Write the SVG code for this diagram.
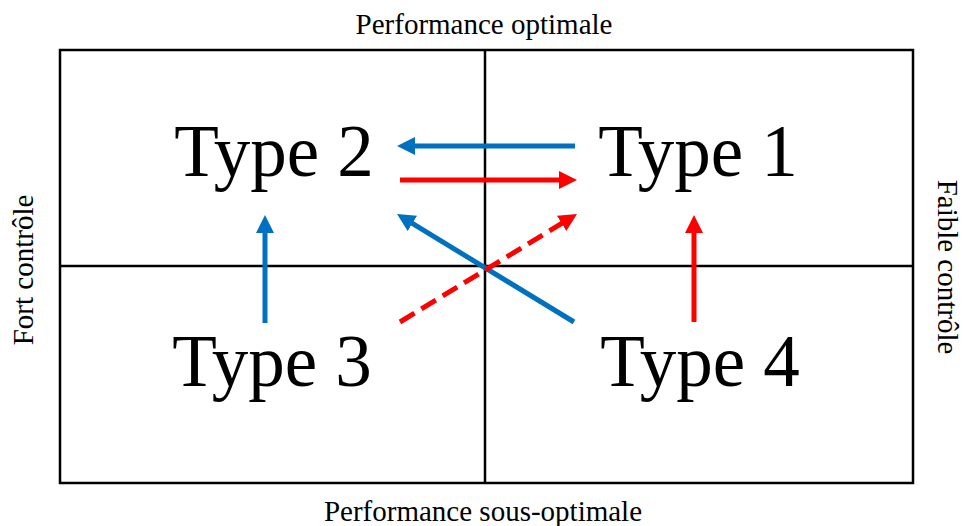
<svg xmlns="http://www.w3.org/2000/svg" width="963" height="526" viewBox="0 0 963 526">
<style>
.grid{fill:none;stroke:#000;stroke-width:2.5}
.lbl{font-family:"Liberation Serif","Times New Roman",serif;font-size:29px;fill:#000}
.type{font-family:"Liberation Serif","Times New Roman",serif;font-size:73px;fill:#000;text-anchor:middle}
.blue{stroke:#0070C0;stroke-width:5;fill:none}
.red{stroke:#FF0000;stroke-width:5;fill:none}
</style>
<defs>
<marker id="ab" markerUnits="userSpaceOnUse" markerWidth="20" markerHeight="20" viewBox="0 0 20 20" refX="1" refY="9" orient="auto"><path d="M0,0 L18,9 L0,18 z" fill="#0070C0"/></marker>
<marker id="ar" markerUnits="userSpaceOnUse" markerWidth="20" markerHeight="20" viewBox="0 0 20 20" refX="1" refY="9" orient="auto"><path d="M0,0 L18,9 L0,18 z" fill="#FF0000"/></marker>
</defs>
<rect width="963" height="526" fill="#fff"/>
<g id="grid">
<rect class="grid" x="60" y="50" width="853" height="433"/>
<line class="grid" x1="485" y1="50" x2="485" y2="483"/>
<line class="grid" x1="60" y1="266" x2="913" y2="266"/>
</g>
<g id="labels">
<text class="lbl" x="484" y="34" text-anchor="middle">Performance optimale</text>
<text class="lbl" x="483" y="521" text-anchor="middle">Performance sous-optimale</text>
<text class="lbl" text-anchor="middle" transform="translate(33,270) rotate(-90)">Fort contrôle</text>
<text class="lbl" text-anchor="middle" transform="translate(938,267) rotate(90)">Faible contrôle</text>
</g>
<g id="type1"><text class="type" x="698" y="176">Type 1</text></g>
<g id="type2"><text class="type" x="274" y="176">Type 2</text></g>
<g id="type3"><text class="type" x="272" y="386">Type 3</text></g>
<g id="type4"><text class="type" x="700" y="386">Type 4</text></g>
<g id="connectors">
<line class="blue" x1="575" y1="146" x2="414" y2="146" marker-end="url(#ab)"/>
<line class="red" x1="400" y1="180" x2="560" y2="180" marker-end="url(#ar)"/>
<line class="blue" x1="574" y1="322" x2="411.5" y2="222.9" marker-end="url(#ab)"/>
<line class="red" x1="400" y1="322" x2="562.5" y2="222.9" stroke-dasharray="17,8" marker-end="url(#ar)"/>
<line class="blue" x1="265" y1="323" x2="265" y2="232" marker-end="url(#ab)"/>
<line class="red" x1="694" y1="322" x2="694" y2="232" marker-end="url(#ar)"/>
</g>
</svg>
